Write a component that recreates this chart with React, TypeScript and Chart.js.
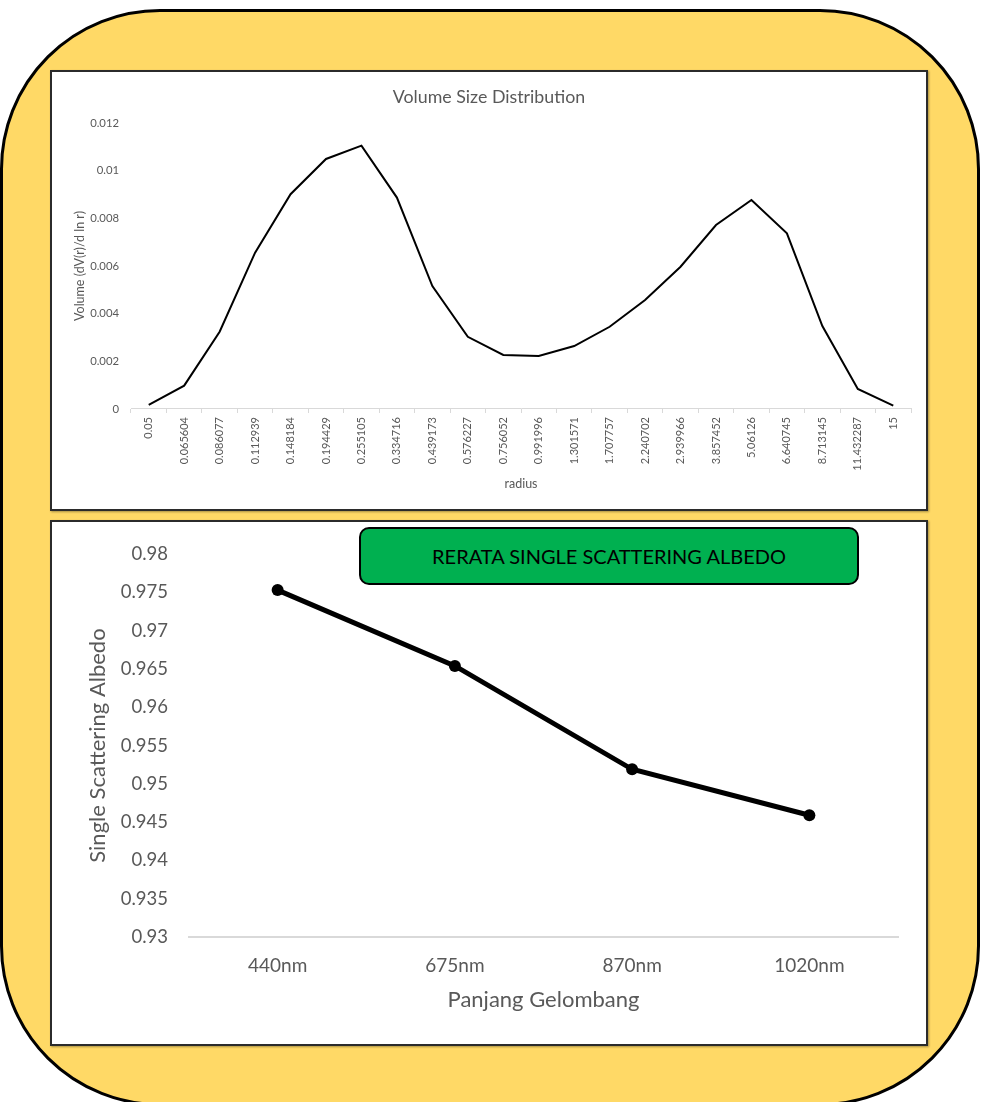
import React, { useEffect, useRef } from "react";
import { Chart, registerables } from "chart.js";

Chart.register(...registerables);

const FONT = "Lato, 'Open Sans', 'DejaVu Sans', sans-serif";
const TEXT = "#595959";

// ---- Top chart data ----
const radiusLabels = [
  "0.05", "0.065604", "0.086077", "0.112939", "0.148184", "0.194429",
  "0.255105", "0.334716", "0.439173", "0.576227", "0.756052", "0.991996",
  "1.301571", "1.707757", "2.240702", "2.939966", "3.857452", "5.06126",
  "6.640745", "8.713145", "11.432287", "15",
];
const volumeValues = [
  0.00017, 0.00098, 0.00324, 0.00656, 0.00901, 0.01049,
  0.01105, 0.00887, 0.00516, 0.00303, 0.00227, 0.00222,
  0.00264, 0.00345, 0.00457, 0.00597, 0.00772, 0.00877,
  0.00737, 0.00348, 0.00084, 0.00014,
];
const volumeTitle = "Volume Size Distribution";
const volumeYTitle = "Volume (dV(r)/d ln r)";
const volumeXTitle = "radius";

// ---- Bottom chart data ----
const wavelengths = ["440nm", "675nm", "870nm", "1020nm"];
const albedoValues = [0.9753, 0.9654, 0.9519, 0.9459];
const albedoYTitle = "Single Scattering Albedo";
const albedoXTitle = "Panjang Gelombang";
const albedoBanner = "RERATA SINGLE SCATTERING ALBEDO";

function VolumeChart() {
  const ref = useRef<HTMLCanvasElement>(null);
  useEffect(() => {
    const chart = new Chart(ref.current!, {
      type: "line",
      data: {
        labels: radiusLabels,
        datasets: [
          {
            data: volumeValues,
            borderColor: "#000000",
            borderWidth: 2,
            pointRadius: 0,
            tension: 0,
            fill: false,
          },
        ],
      },
      options: {
        animation: false,
        responsive: true,
        maintainAspectRatio: false,
        layout: { padding: { left: 15, right: 15, top: 0, bottom: 0 } },
        plugins: {
          legend: { display: false },
          tooltip: { enabled: false },
          title: {
            display: true,
            text: volumeTitle,
            color: TEXT,
            font: { family: FONT, size: 17.8, weight: "normal" },
            padding: { top: 14.3, bottom: 15.3 },
          },
        },
        scales: {
          x: {
            offset: true,
            grid: {
              display: true,
              offset: true,
              drawOnChartArea: false,
              drawTicks: true,
              tickLength: 4,
              color: "#d9d9d9",
            },
            border: { display: true, color: "#d9d9d9", width: 1 },
            ticks: {
              autoSkip: false,
              minRotation: 90,
              maxRotation: 90,
              padding: 4,
              color: TEXT,
              font: { family: FONT, size: 11 },
            },
            title: {
              display: true,
              text: volumeXTitle,
              color: TEXT,
              font: { family: FONT, size: 12.5 },
              padding: { top: 0, bottom: 17.5 },
            },
            afterFit: (s: any) => {
              s.height = 100;
            },
          },
          y: {
            min: 0,
            max: 0.012,
            grid: { display: false, drawTicks: false },
            border: { display: false },
            ticks: {
              stepSize: 0.002,
              padding: 12,
              color: TEXT,
              font: { family: FONT, size: 11.3 },
              callback: (v: any) => String(Number(Number(v).toFixed(3))),
            },
            title: {
              display: true,
              text: volumeYTitle,
              color: TEXT,
              font: { family: FONT, size: 12.5 },
              padding: { top: 5.5, bottom: 0 },
            },
            afterFit: (s: any) => {
              s.width = 64;
            },
          },
        },
      },
    });
    return () => chart.destroy();
  }, []);
  return <canvas ref={ref} />;
}

function AlbedoChart() {
  const ref = useRef<HTMLCanvasElement>(null);
  useEffect(() => {
    const chart = new Chart(ref.current!, {
      type: "line",
      data: {
        labels: wavelengths,
        datasets: [
          {
            data: albedoValues,
            borderColor: "#000000",
            backgroundColor: "#000000",
            borderWidth: 5,
            pointRadius: 6,
            pointBackgroundColor: "#000000",
            pointBorderColor: "#000000",
            pointBorderWidth: 0,
            tension: 0,
            fill: false,
          },
        ],
      },
      options: {
        animation: false,
        responsive: true,
        maintainAspectRatio: false,
        layout: { padding: { left: 0, right: 28, top: 29, bottom: 0 } },
        plugins: {
          legend: { display: false },
          tooltip: { enabled: false },
          title: { display: false },
        },
        scales: {
          x: {
            offset: true,
            grid: { display: false, drawTicks: false },
            border: { display: true, color: "#d9d9d9", width: 2 },
            ticks: {
              padding: 17,
              color: TEXT,
              font: { family: FONT, size: 19 },
            },
            title: {
              display: true,
              text: albedoXTitle,
              color: TEXT,
              font: { family: FONT, size: 22 },
              padding: { top: 0, bottom: 30.8 },
            },
            afterFit: (s: any) => {
              s.height = 107;
            },
          },
          y: {
            min: 0.93,
            max: 0.98,
            grid: { display: false, drawTicks: false },
            border: { display: false },
            ticks: {
              stepSize: 0.005,
              padding: 21,
              color: TEXT,
              font: { family: FONT, size: 18.5 },
              callback: (v: any) => String(Number(Number(v).toFixed(3))),
            },
            title: {
              display: true,
              text: albedoYTitle,
              color: TEXT,
              font: { family: FONT, size: 22 },
              padding: { top: 32.8, bottom: 0 },
            },
            afterFit: (s: any) => {
              s.width = 137;
            },
          },
        },
      },
    });
    return () => chart.destroy();
  }, []);
  return <canvas ref={ref} />;
}

export default function App() {
  const panelStyle: React.CSSProperties = {
    position: "absolute",
    boxSizing: "border-box",
    background: "#ffffff",
    border: "2px solid #2b2b2b",
    boxShadow: "1px 1px 2px rgba(0,0,0,0.35)",
  };
  return (
    <div
      style={{
        position: "absolute",
        left: 0,
        top: 0,
        width: 981,
        height: 1102,
        overflow: "hidden",
        background: "#ffffff",
        fontFamily: FONT,
      }}
    >
      <div
        style={{
          position: "absolute",
          left: 0,
          top: 9,
          width: 980,
          height: 1097,
          boxSizing: "border-box",
          background: "#FFD966",
          border: "3px solid #000000",
          borderRadius: 160,
        }}
      />
      <div style={{ ...panelStyle, left: 50, top: 70, width: 878, height: 441 }} />
      <div style={{ position: "absolute", left: 52, top: 72, width: 874, height: 437 }}>
        <VolumeChart />
      </div>
      <div style={{ ...panelStyle, left: 50, top: 520, width: 878, height: 526 }} />
      <div style={{ position: "absolute", left: 52, top: 522, width: 874, height: 522 }}>
        <AlbedoChart />
      </div>
      <div
        style={{
          position: "absolute",
          left: 359,
          top: 527,
          width: 500,
          height: 58,
          boxSizing: "border-box",
          background: "#00B050",
          border: "2px solid #000000",
          borderRadius: 10,
          display: "flex",
          alignItems: "center",
          justifyContent: "center",
          fontFamily: FONT,
          fontSize: 20,
          color: "#000000",
        }}
      >
        {albedoBanner}
      </div>
    </div>
  );
}
